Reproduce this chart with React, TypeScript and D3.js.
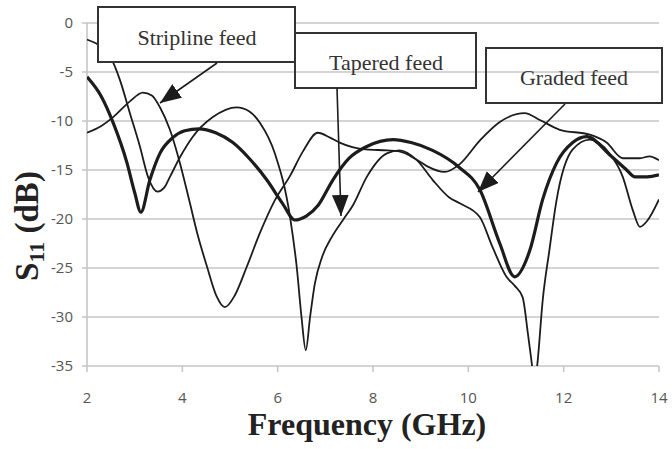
import * as d3 from 'd3';

// S11 readings, [frequency GHz, dB]
const striplineFeed: [number, number][] = [
  [2.0, -11.2], [2.3, -10.5], [2.55, -9.6], [2.9, -8.0], [3.17, -7.1], [3.36, -7.4],
  [3.53, -8.6], [3.74, -10.9], [3.95, -14.3], [4.16, -18.4], [4.31, -21.4], [4.52, -24.9],
  [4.72, -27.9], [4.89, -29.0], [5.1, -27.8], [5.35, -24.9], [5.63, -21.4], [5.94, -18.1],
  [6.26, -15.6], [6.53, -13.1], [6.84, -11.2], [7.1, -11.7], [7.3, -12.2], [7.85, -12.9],
  [8.3, -13.0], [8.55, -13.1], [8.9, -13.9], [9.13, -14.6], [9.5, -15.2], [9.82, -14.4],
  [10.24, -12.0], [10.66, -10.1], [11.18, -9.2], [11.5, -9.9], [11.92, -10.9], [12.55, -11.4],
  [12.9, -12.2], [13.24, -13.8], [13.6, -13.8], [13.8, -13.6], [14.0, -14.0],
];

const taperedFeed: [number, number][] = [
  [2.0, -1.7], [2.48, -3.4], [2.69, -5.8], [2.9, -9.2], [3.11, -12.6], [3.28, -15.7],
  [3.48, -17.2], [3.62, -16.8], [3.74, -15.7], [3.95, -13.7], [4.22, -11.6], [4.64, -9.6],
  [5.14, -8.6], [5.4, -9.0], [5.63, -10.2], [5.94, -13.3], [6.26, -19.8], [6.4, -24.9],
  [6.5, -30.0], [6.59, -33.4], [6.68, -30.0], [6.78, -26.6], [6.93, -23.9], [7.14, -21.8],
  [7.37, -20.1], [7.58, -18.6], [7.87, -15.7], [8.29, -13.3], [8.56, -13.0], [8.92, -14.0],
  [9.25, -16.0], [9.6, -17.8], [9.82, -18.4], [10.24, -19.8], [10.51, -22.9], [10.8, -25.9],
  [10.97, -26.8], [11.14, -28.0], [11.25, -31.7], [11.33, -34.7], [11.39, -37.0], [11.45, -34.7],
  [11.56, -28.3], [11.7, -23.2], [11.85, -18.1], [12.19, -12.9], [12.55, -11.9], [12.96, -13.3],
  [13.24, -15.7], [13.45, -19.1], [13.6, -20.8], [13.75, -20.2], [14.0, -18.0],
];

const gradedFeed: [number, number][] = [
  [2.0, -5.5], [2.3, -7.5], [2.55, -10.2], [2.84, -14.3], [3.0, -17.3], [3.13, -19.3],
  [3.32, -16.0], [3.53, -13.3], [3.8, -11.7], [4.05, -11.0], [4.35, -10.8], [4.7, -11.2],
  [5.06, -12.2], [5.4, -13.8], [5.77, -16.0], [6.1, -18.4], [6.36, -20.1], [6.6, -19.7],
  [6.85, -18.6], [7.16, -16.0], [7.5, -13.8], [7.87, -12.6], [8.42, -11.9], [8.8, -12.2],
  [9.25, -13.0], [9.8, -14.7], [10.24, -17.0], [10.66, -22.5], [10.97, -25.9], [11.29, -23.2],
  [11.56, -18.0], [11.85, -14.3], [12.19, -12.2], [12.48, -11.6], [13.0, -13.6], [13.3, -14.9],
  [13.5, -15.7], [13.75, -15.7], [14.0, -15.5],
];

const xTicks = [2, 4, 6, 8, 10, 12, 14];
const yTicks = [0, -5, -10, -15, -20, -25, -30, -35];

const W = 672;
const H = 449;
const margin = { top: 23, right: 13, bottom: 83, left: 87 };

const App = () => {
  const x = d3.scaleLinear().domain([2, 14]).range([margin.left, W - margin.right]);
  const y = d3.scaleLinear().domain([-35, 0]).range([H - margin.bottom, margin.top]);

  const line = d3
    .line<[number, number]>()
    .x(d => x(d[0]))
    .y(d => y(d[1]))
    .curve(d3.curveMonotoneX);

  const grid = '#c6c6c6';
  const ink = '#1c1c1c';
  const serif = '"Liberation Serif", "Times New Roman", serif';
  const sans = '"Open Sans", "Noto Sans", sans-serif';

  const y0 = y(-35);

  return (
    <svg width={W} height={H} style={{ position: 'absolute', left: 0, top: 0, background: '#fff' }}>
      <defs>
        <clipPath id="plot">
          <rect x={margin.left} y={margin.top - 10} width={W - margin.left - margin.right} height={y0 - margin.top + 10} />
        </clipPath>
        <marker id="head" viewBox="0 0 20 16" refX="20" refY="8" markerWidth="21" markerHeight="17" markerUnits="userSpaceOnUse" orient="auto">
          <path d="M0,0 L20,8 L0,16 Z" fill={ink} />
        </marker>
      </defs>

      {/* gridlines + y ticks */}
      {yTicks.map(t => (
        <g key={t}>
          <line x1={margin.left - 5} x2={W - margin.right} y1={y(t)} y2={y(t)} stroke={grid} strokeWidth={1.6} />
          <text x={margin.left - 14} y={y(t)} dy="0.35em" textAnchor="end" fontFamily={sans} fontSize={15} fill="#555">
            {t}
          </text>
        </g>
      ))}
      <line x1={margin.left} x2={margin.left} y1={margin.top} y2={y0} stroke={grid} strokeWidth={1.6} />
      {xTicks.map(t => (
        <g key={t}>
          <line x1={x(t)} x2={x(t)} y1={y0} y2={y0 + 6} stroke={grid} strokeWidth={1.6} />
          <text x={x(t)} y={y0 + 37} textAnchor="middle" fontFamily={sans} fontSize={15} fill="#555">
            {t}
          </text>
        </g>
      ))}

      {/* curves */}
      <g clipPath="url(#plot)" fill="none" stroke={ink} strokeLinejoin="round">
        <path d={line(striplineFeed) ?? ''} strokeWidth={1.8} />
        <path d={line(taperedFeed) ?? ''} strokeWidth={1.8} />
        <path d={line(gradedFeed) ?? ''} strokeWidth={3.2} />
      </g>

      {/* axis titles */}
      <text x={367} y={435} textAnchor="middle" fontFamily={serif} fontWeight="bold" fontSize={32} fill="#222">
        Frequency (GHz)
      </text>
      <text transform="translate(38,226) rotate(-90)" textAnchor="middle" fontFamily={serif} fontWeight="bold" fontSize={33} fill="#222">
        S<tspan fontSize={22} dy={6}>11</tspan>
        <tspan dy={-6}> (dB)</tspan>
      </text>

      {/* annotations */}
      <g fontFamily={serif} fontSize={22} fill="#333" textAnchor="middle">
        <rect x={295} y={33} width={181} height={55} fill="none" stroke="#333" strokeWidth={2} />
        <text x={386} y={70}>Tapered feed</text>
        <rect x={98} y={7} width={197} height={55} fill="#fff" stroke="#333" strokeWidth={2} />
        <text x={197} y={45}>Stripline feed</text>
        <rect x={486} y={48} width={176} height={55} fill="none" stroke="#333" strokeWidth={2} />
        <text x={574} y={85}>Graded feed</text>
      </g>
      <g stroke={ink} strokeWidth={1.6} fill="none">
        <line x1={217} y1={63} x2={160} y2={103} markerEnd="url(#head)" />
        <line x1={337} y1={88} x2={341} y2={216} markerEnd="url(#head)" />
        <line x1={565} y1={104} x2={478} y2={192} markerEnd="url(#head)" />
      </g>
    </svg>
  );
};

export default App;
